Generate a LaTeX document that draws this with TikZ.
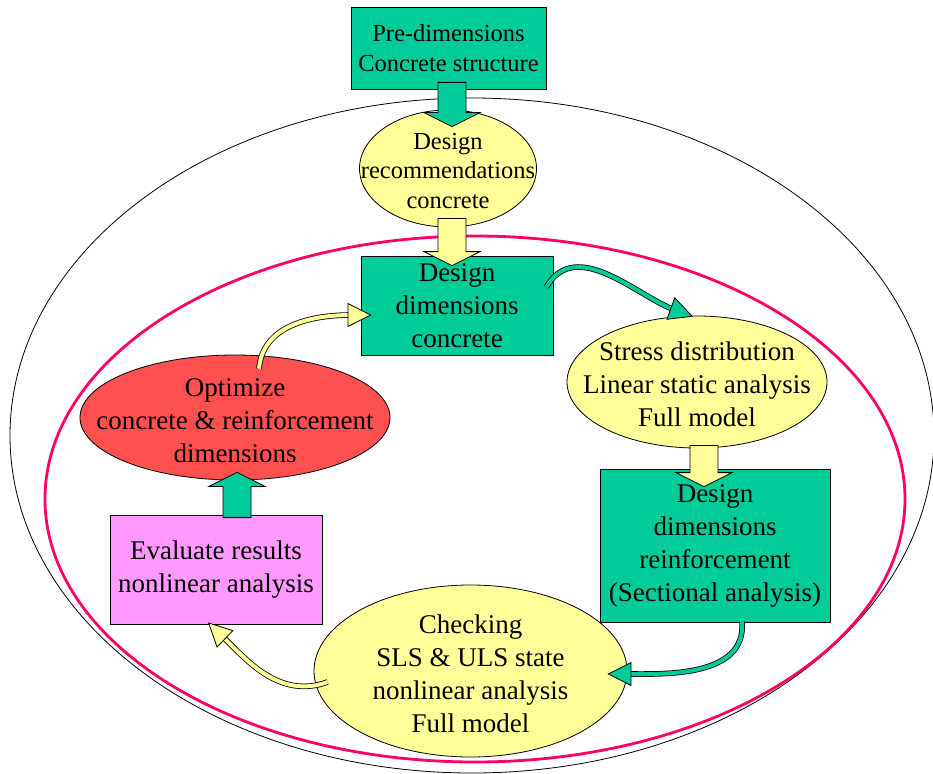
\documentclass[tikz,border=0pt]{standalone}
\usepackage{fontspec}
\setmainfont{Liberation Serif}
\usetikzlibrary{calc,shapes.geometric,arrows.meta}
\definecolor{jade}{RGB}{0,204,153}
\definecolor{pale}{RGB}{255,255,153}
\definecolor{rose}{RGB}{255,153,255}
\definecolor{tomato}{RGB}{255,80,80}
\definecolor{ring}{RGB}{255,0,102}
% text of no size, so the ellipse keeps its own size
\newcommand{\inoval}[1]{\raisebox{-.5\height}[0pt][0pt]{\makebox[0pt]{\begin{tabular}[b]{@{}c@{}}#1\end{tabular}}}}
% fat block arrow: start, tip, colour
\newcommand{\fatarrow}[3]{%
\draw[line width=0.8pt, fill=#3] ($(#1)!14pt!90:(#2)$) -- ($(#2)!14pt!(#1)!14pt!-90:(#1)$)
 -- ($(#2)!14pt!(#1)!28pt!-90:(#1)$) -- (#2) -- ($(#2)!14pt!(#1)!28pt!90:(#1)$)
 -- ($(#2)!14pt!(#1)!14pt!90:(#1)$) -- ($(#1)!14pt!-90:(#2)$) -- cycle;}
% curved tube arrow: colour, start, tip, bend
\newcommand{\tubearrow}[4]{%
\draw[line width=0.8pt, double=#1, double distance=4pt, shorten >=20pt] (#2) to[#4] (#3);
\draw[line width=0.8pt, draw=#1, -{Triangle[length=24pt,width=24pt,fill=#1,color=black]}] (#2) to[#4] (#3);}

\begin{document}
\begin{tikzpicture}[x=1pt, y=-1pt,
  box/.style={draw, line width=0.8pt, align=center, inner sep=0pt, font=\fontsize{27}{33}\selectfont},
  oval/.style={box, ellipse},
  small/.style={font=\fontsize{24.5}{29.5}\selectfont}]
\useasboundingbox (0,0) rectangle (933,773);
\draw[line width=0.8pt] (472,435.5) ellipse [x radius=462, y radius=337.5];
\draw[ring, line width=2.8pt] (475,499) ellipse [x radius=430, y radius=263];

\node[box, small, fill=jade, minimum width=195pt, minimum height=82pt] (pre) at (448.5,48) {Pre-dimensions\\Concrete structure};
\node[oval, small, fill=pale, minimum width=177pt, minimum height=117pt] (rec) at (448,168.5) {\inoval{Design\\recommendations\\concrete}};
\node[box, fill=jade, minimum width=192pt, minimum height=99pt] (con) at (457,305.5) {Design\\dimensions\\concrete};
\node[oval, fill=pale, minimum width=260pt, minimum height=132pt] (stress) at (697,382) {\inoval{Stress distribution\\Linear static analysis\\Full model}};
\node[box, fill=jade, minimum width=230pt, minimum height=153pt] (reinf) at (715,545.5) {Design\\dimensions\\reinforcement\\(Sectional analysis)};
\node[oval, fill=pale, minimum width=313pt, minimum height=172pt] (check) at (470.5,671) {\inoval{Checking\\SLS \& ULS state\\nonlinear analysis\\Full model}};
\node[box, fill=rose, minimum width=212pt, minimum height=109pt] (eval) at (216,569.5) {Evaluate results\\nonlinear analysis};
\node[oval, fill=tomato, minimum width=310pt, minimum height=125pt] (opt) at (235,417.5) {\inoval{Optimize\\concrete \& reinforcement\\dimensions}};

% block arrows
\coordinate (a1) at ($(pre.south)+(3.5,-7)$);
\coordinate (b1) at ($(rec.north)+(4,17)$);
\coordinate (a2) at ($(rec.south)+(4,-9)$);
\coordinate (b2) at ($(con.north)+(-5,10)$);
\coordinate (a3) at ($(stress.south)+(7,-3)$);
\coordinate (b3) at ($(reinf.north)+(-11,18)$);
\coordinate (a4) at ($(eval.north)+(21,3)$);
\coordinate (b4) at ($(opt.south)+(2,-8)$);
\fatarrow{a1}{b1}{jade}
\fatarrow{a2}{b2}{pale}
\fatarrow{a3}{b3}{pale}
\fatarrow{a4}{b4}{jade}

% curved arrows
\coordinate (c1) at ($(con.east)+(-7,-18.5)$);
\coordinate (d1) at ($(stress.north)+(-4,1)$);
\coordinate (c2) at ($(reinf.south)+(27,-1)$);
\coordinate (d2) at ($(check.east)+(-20,3)$);
\coordinate (c3) at ($(check.west)+(14,11)$);
\coordinate (d3) at ($(eval.south)+(-8,-2)$);
\coordinate (c4) at ($(opt.north)+(24,14)$);
\coordinate (d4) at ($(con.west)+(11,9.5)$);
\tubearrow{jade}{c1}{d1}{out=60, in=160}
\tubearrow{jade}{c2}{d2}{out=-85, in=0}
\tubearrow{pale}{c3}{d3}{out=200, in=-44}
\tubearrow{pale}{c4}{d4}{out=85, in=180}
\end{tikzpicture}
\end{document}
